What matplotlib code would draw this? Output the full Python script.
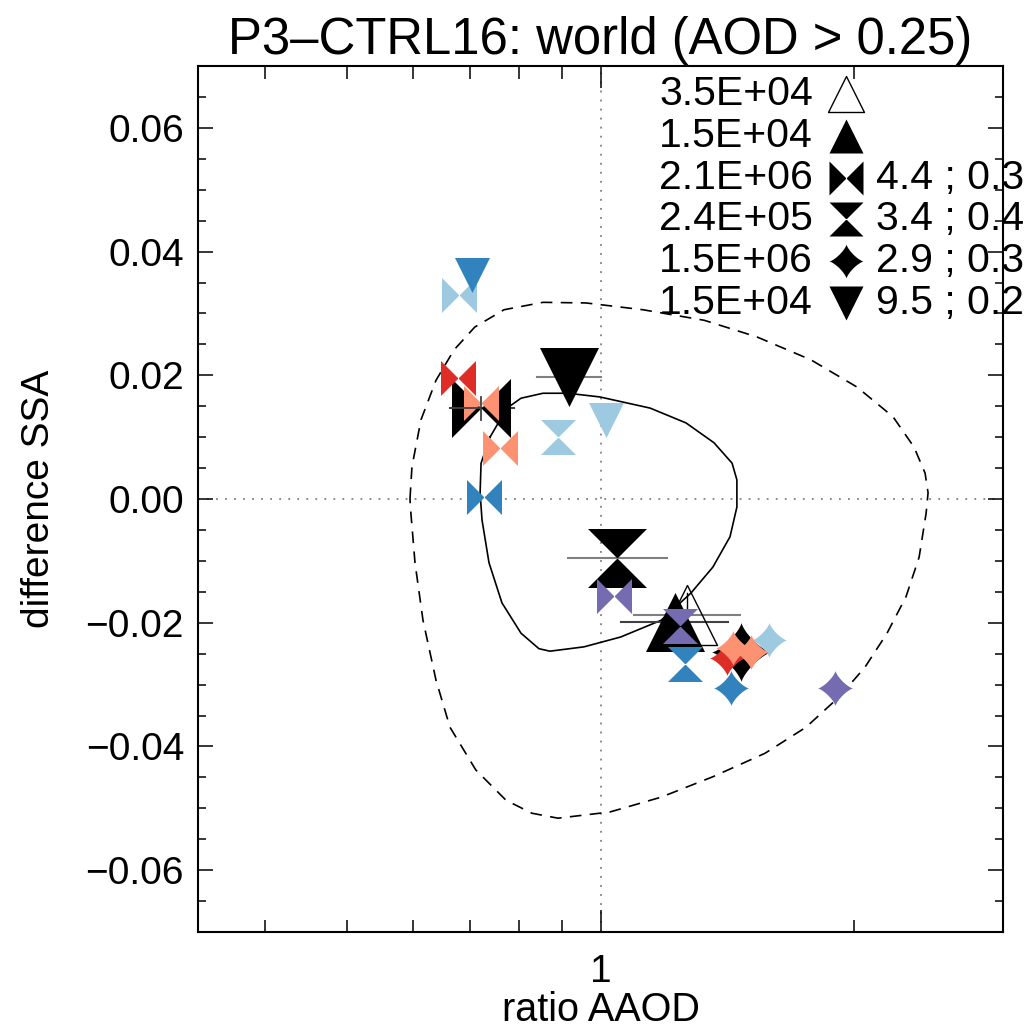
import numpy as np
import matplotlib
matplotlib.use('Agg')
import matplotlib.pyplot as plt
from matplotlib.path import Path

plt.rcParams['font.family'] = ['Liberation Sans', 'DejaVu Sans']

# ---- data ----
# colours of the models
RED, SALMON, DBLUE, LBLUE, PURPLE = '#de2d26', '#fc9272', '#3182bd', '#9ecae1', '#756bb1'

# black (ensemble) symbols with horizontal error ranges
blk_shape = ['tri_down', 'bowtie', 'hourglass', 'tri_up', 'star']
blk_x = [0.917, 0.722, 1.046, 1.226, 1.468]
blk_y = [0.0197, 0.0147, -0.0095, -0.0199, -0.0247]
blk_xlo = [0.841, 0.663, 0.915, 1.057, np.nan]
blk_xhi = [1.001, 0.790, 1.199, 1.416, np.nan]
blk_errc = ['#7f7f7f', '#404040', '#7f7f7f', '#404040', '#7f7f7f']

# open triangle
open_x, open_y = 1.266, -0.0188
open_xlo, open_xhi = 1.096, 1.463
open_ylo, open_yhi = -0.0222, -0.0152

# bowtie error cross (vertical part)
bow_ylo, bow_yhi = 0.0128, 0.0165

# coloured model symbols
col_shape = ['bowtie', 'bowtie', 'bowtie', 'bowtie', 'bowtie', 'bowtie',
             'hourglass', 'hourglass', 'hourglass',
             'tri_down', 'tri_down',
             'star', 'star', 'star', 'star', 'star', 'star']
col_color = [LBLUE, RED, SALMON, SALMON, DBLUE, PURPLE,
             LBLUE, PURPLE, DBLUE,
             DBLUE, LBLUE,
             LBLUE, RED, SALMON, SALMON, DBLUE, PURPLE]
col_x = [0.680, 0.678, 0.722, 0.760, 0.728, 1.038,
         0.890, 1.242, 1.259,
         0.704, 1.015,
         1.585, 1.413, 1.436, 1.508, 1.428, 1.897]
col_y = [0.0330, 0.0196, 0.0155, 0.0082, 0.0003, -0.0157,
         0.0100, -0.0205, -0.0267,
         0.0362, 0.0128,
         -0.0228, -0.0257, -0.0241, -0.0247, -0.0306, -0.0306]

# inner (solid) contour
solid_x = [0.7396, 0.7747, 0.8050, 0.8547, 0.9150, 0.9986, 1.145, 1.263, 1.363,
           1.432, 1.451, 1.451, 1.424, 1.359, 1.280, 1.180, 1.057, 0.9559,
           0.8711, 0.8454, 0.8050, 0.7642, 0.7376, 0.7237, 0.7199, 0.7218, 0.7396]
solid_y = [0.0100, 0.0147, 0.0163, 0.0171, 0.0171, 0.0165, 0.0147, 0.0123, 0.0091,
           0.0058, 0.0031, -0.0013, -0.0061, -0.0110, -0.0152, -0.0196, -0.0223, -0.0239,
           -0.0246, -0.0242, -0.0217, -0.0168, -0.0103, -0.0034, 0.0010, 0.0058, 0.0100]

# outer (dashed) contour
dash_x = [0.5945, 0.5977, 0.6126, 0.6383, 0.6704, 0.7095, 0.7684, 0.8547, 0.9612,
          1.123, 1.327, 1.533, 1.776, 2.014, 2.222, 2.353, 2.425, 2.445, 2.432,
          2.386, 2.302, 2.186, 2.058, 1.918, 1.752, 1.567, 1.359, 1.180, 1.026,
          0.8905, 0.8293, 0.7727, 0.7115, 0.6631, 0.6383, 0.6160, 0.6027, 0.5960, 0.5945]
dash_y = [0.0000, 0.0052, 0.0128, 0.0192, 0.0241, 0.0278, 0.0306, 0.0318, 0.0317,
          0.0306, 0.0289, 0.0262, 0.0225, 0.0181, 0.0133, 0.0084, 0.0042, 0.0010, -0.0023,
          -0.0094, -0.0158, -0.0217, -0.0272, -0.0320, -0.0369, -0.0411, -0.0449, -0.0482, -0.0506,
          -0.0516, -0.0508, -0.0487, -0.0438, -0.0369, -0.0293, -0.0196, -0.0103, -0.0023, 0.0000]

# legend block
leg_count = ['3.5E+04', '1.5E+04', '2.1E+06', '2.4E+05', '1.5E+06', '1.5E+04']
leg_shape = ['tri_up_open', 'tri_up', 'bowtie', 'hourglass', 'star', 'tri_down']
leg_stats = ['', '', '4.4 ; 0.3', '3.4 ; 0.4', '2.9 ; 0.3', '9.5 ; 0.2']

yticks = [-0.06, -0.04, -0.02, 0.00, 0.02, 0.04, 0.06]
yticklabels = ['\u22120.06', '\u22120.04', '\u22120.02', '0.00', '0.02', '0.04', '0.06']
xminor = [0.4, 0.5, 0.6, 0.7, 0.8, 0.9, 2.0]

# ---- symbol shapes ----
M, L, C = Path.MOVETO, Path.LINETO, Path.CLOSEPOLY
tri_up = Path([(-1, -1), (1, -1), (0, 1), (-1, -1)], [M, L, L, C])
tri_down = Path([(-1, 1), (1, 1), (0, -1), (-1, 1)], [M, L, L, C])
bowtie = Path([(-1, -1), (0, 0), (-1, 1), (-1, -1), (1, -1), (0, 0), (1, 1), (1, -1)],
              [M, L, L, C, M, L, L, C])
hourglass = Path([(-1, 1), (0, 0), (1, 1), (-1, 1), (-1, -1), (0, 0), (1, -1), (-1, -1)],
                 [M, L, L, C, M, L, L, C])
t = np.linspace(0, 2 * np.pi, 81)
ct, st = np.cos(t), np.sin(t)
sv = np.column_stack([np.sign(ct) * np.abs(ct) ** 2.6, np.sign(st) * np.abs(st) ** 2.6])
star = Path(sv, closed=True)
shapes = {'tri_up': tri_up, 'tri_down': tri_down, 'bowtie': bowtie,
          'hourglass': hourglass, 'star': star, 'tri_up_open': tri_up}

PX = 72 / 100.0  # points per pixel

fig = plt.figure(figsize=(10.35, 10.32), dpi=100)
ax = fig.add_axes([0.1913, 0.0969, 0.7778, 0.8391])
ax.set_xscale('log')
ax.set_xlim(1 / 3.0, 3.0)
ax.set_ylim(-0.07, 0.07)

ax.axvline(1, color='#808080', ls=(0, (1, 4)), lw=1.3, zorder=1)
ax.axhline(0, color='#808080', ls=(0, (1, 4)), lw=1.3, zorder=1)

ax.plot(solid_x, solid_y, color='black', lw=1.2, zorder=2, solid_joinstyle='round')
ax.plot(dash_x, dash_y, color='black', lw=1.2, ls=(0, (7, 5)), zorder=2)

# error bars
for xl, xh, y, c in zip(blk_xlo, blk_xhi, blk_y, blk_errc):
    if not np.isnan(xl):
        ax.plot([xl, xh], [y, y], color=c, lw=1.5, zorder=3)
ax.plot([open_xlo, open_xhi], [open_y, open_y], color='#7f7f7f', lw=1.5, zorder=3)
ax.plot([open_x, open_x], [open_ylo, open_yhi], color='black', lw=1.0, zorder=3)

# black symbols
for s, x, y in zip(blk_shape, blk_x, blk_y):
    ax.plot(x, y, ls='none', marker=shapes[s], ms=59 * PX, color='black', mec='none', zorder=4)
ax.plot(open_x, open_y, ls='none', marker=tri_up, ms=60 * PX, mfc='none', mec='black',
        mew=1.0, zorder=5)

# coloured symbols
for s, c, x, y in zip(col_shape, col_color, col_x, col_y):
    ax.plot(x, y, ls='none', marker=shapes[s], ms=35 * PX, color=c, mec='none', zorder=6)

# error cross of the black bowtie shows on top
ax.plot([blk_xlo[1], blk_x[1]], [blk_y[1], blk_y[1]], color='#404040', lw=1.3, zorder=6.5)
ax.plot([blk_x[1], blk_x[1]], [bow_ylo, bow_yhi], color='#404040', lw=1.3, zorder=6.5)

# legend block
fs = 28
lfs = 29.5
for i, (cnt, shp, st_) in enumerate(zip(leg_count, leg_shape, leg_stats)):
    yy = 0.9677 - i * 0.0483
    ax.text(0.764, yy, cnt, transform=ax.transAxes, ha='right', va='center', fontsize=lfs, zorder=7)
    if shp == 'tri_up_open':
        ax.plot(0.805, yy, transform=ax.transAxes, ls='none', marker=tri_up, ms=36 * PX,
                mfc='none', mec='black', mew=1.0, clip_on=False, zorder=7)
    else:
        ax.plot(0.805, yy, transform=ax.transAxes, ls='none', marker=shapes[shp], ms=34 * PX,
                color='black', mec='none', clip_on=False, zorder=7)
    if st_:
        ax.text(0.842, yy, st_, transform=ax.transAxes, ha='left', va='center', fontsize=lfs, zorder=7)

# axes styling
ax.set_xticks([1])
ax.set_xticklabels(['1'])
ax.set_xticks(xminor, minor=True)
ax.xaxis.set_minor_formatter(matplotlib.ticker.NullFormatter())
ax.set_yticks(yticks)
ax.set_yticklabels(yticklabels)
ax.set_yticks(np.arange(-0.065, 0.0651, 0.005), minor=True)

for sp in ax.spines.values():
    sp.set_linewidth(1.5)
ax.tick_params(which='both', direction='in', top=True, right=True, width=1.1,
               labelsize=fs)
ax.tick_params(axis='y', which='major', length=11, pad=10)
ax.tick_params(axis='y', which='minor', length=5.5)
ax.tick_params(axis='x', which='major', length=16, pad=16)
ax.tick_params(axis='x', which='minor', length=9)

ax.set_xlabel('ratio AAOD', fontsize=28.5)
ax.set_ylabel('difference SSA', fontsize=28)
ax.xaxis.set_label_coords(0.5, -0.068)
ax.yaxis.set_label_coords(-0.175, 0.5)
ax.set_title('P3\u2013CTRL16: world (AOD > 0.25)', fontsize=36.6, pad=9)

fig.savefig('out.png', dpi=100)
